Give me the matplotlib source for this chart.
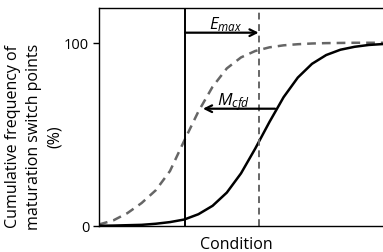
import matplotlib.pyplot as plt

plt.rcParams['font.family'] = ['Open Sans', 'DejaVu Sans']
plt.rcParams['mathtext.fontset'] = 'custom'
plt.rcParams['mathtext.it'] = 'Open Sans:italic'
plt.rcParams['mathtext.rm'] = 'Open Sans'

# Condition axis (arbitrary units, no ticks in the original)
x = [0, 0.5, 1, 1.5, 2, 2.5, 3, 3.5, 4, 4.5, 5, 5.5, 6, 6.5, 7, 7.5, 8, 8.5, 9, 9.5, 10]

# solid curve (cumulative %)
solid = [0.1, 0.2, 0.4, 0.6, 1.2, 2.1, 3.5, 6.4, 11.0, 18.2, 28.7, 42.2, 56.7, 70.3,
         81.0, 88.5, 93.3, 96.2, 97.8, 98.8, 99.3]
# dashed curve (cumulative %)
dashed = [0.8, 3.0, 7.0, 12.5, 19.5, 30.0, 46.5, 62.5, 76.0, 86.0, 92.0, 95.5, 97.5,
          98.6, 99.2, 99.6, 99.8, 99.9, 100, 100, 100]

solid_vline = 3.03
dashed_vline = 5.62
emax_y = 105.5
mcfd_start = 6.2
mcfd_end = 3.66
mcfd_y = 64

yticks = [0, 100]

fig = plt.figure(figsize=(3.83, 2.53), dpi=100)
ax = fig.add_axes([0.2585, 0.103, 0.7415, 0.8616])

ax.plot(x, dashed, color='#666666', lw=1.8, ls=(0, (3.5, 2.4)))
ax.plot(x, solid, color='black', lw=1.8)
ax.axvline(solid_vline, color='black', lw=1.4)
ax.axvline(dashed_vline, color='#666666', lw=1.4, ls=(0, (3.5, 2.4)))

# E_max arrow
ax.annotate('', xy=(dashed_vline, emax_y), xytext=(solid_vline, emax_y),
            arrowprops=dict(arrowstyle='->', color='black', lw=1.6,
                            shrinkA=0, shrinkB=0, mutation_scale=12))
ax.text(4.44, 108, r'$E_{max}$', ha='center', va='baseline', fontsize=12)

# M_cfd arrow
ax.annotate('', xy=(mcfd_end, mcfd_y), xytext=(mcfd_start, mcfd_y),
            arrowprops=dict(arrowstyle='->', color='black', lw=1.6,
                            shrinkA=0, shrinkB=0, mutation_scale=12))
ax.text(4.75, 66.3, r'$M_{cfd}$', ha='center', va='baseline', fontsize=12.5)

ax.set_xlim(0, 10)
ax.set_ylim(0, 119)
ax.set_xticks([])
ax.set_yticks(yticks)
ax.tick_params(axis='y', labelsize=10.5, length=4.5, width=1, pad=2.5)
ax.spines['right'].set_visible(False)
for s in ['left', 'top', 'bottom']:
    ax.spines[s].set_linewidth(1.0)

ax.set_xlabel('Condition', fontsize=11.5)
ax.xaxis.set_label_coords(0.485, -0.045)
ax.set_ylabel('Cumulative frequency of\nmaturation switch points\n(%)', fontsize=11.5,
              linespacing=1.4)
ax.yaxis.set_label_coords(-0.127, 0.415)

fig.savefig('out.png', dpi=100)
